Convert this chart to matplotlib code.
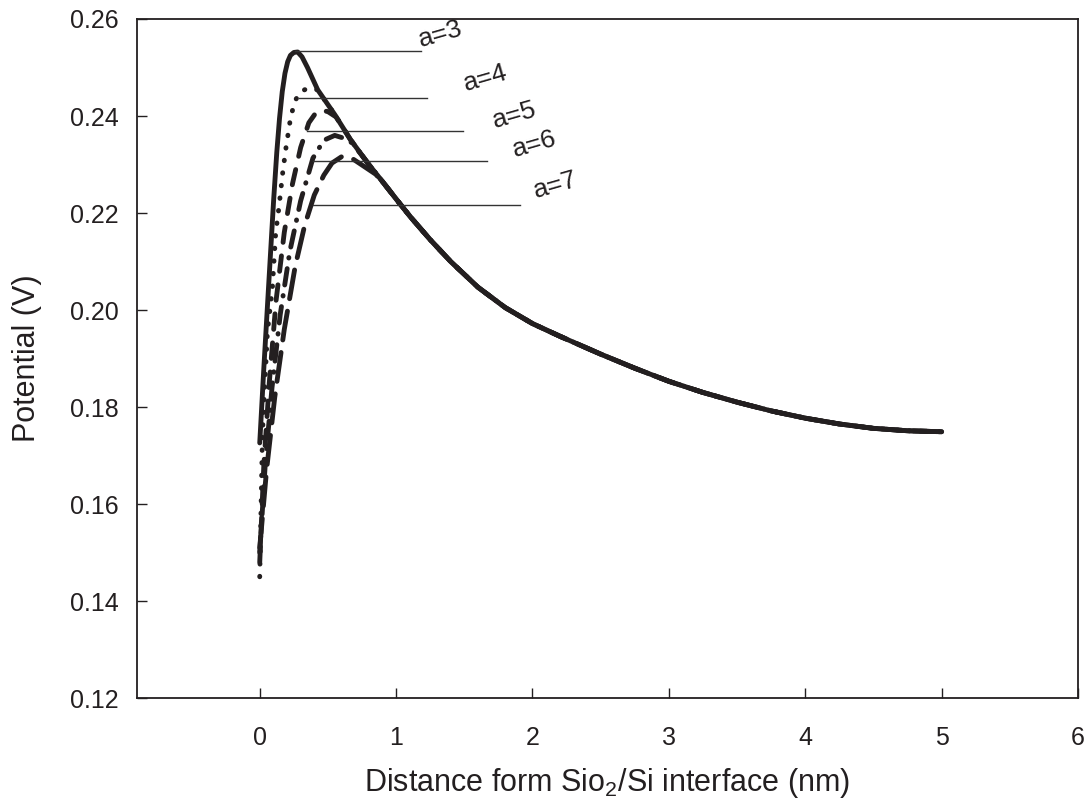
import numpy as np
import matplotlib
matplotlib.use("Agg")
import matplotlib.pyplot as plt

plt.rcParams["font.family"] = ["Liberation Sans", "DejaVu Sans"]
plt.rcParams["mathtext.default"] = "regular"

ink = "#231f20"

# common decaying part shared by all curves after the peak
tail_x = np.array([0.908, 1.0, 1.105, 1.25, 1.4, 1.6, 1.8, 2.0, 2.2, 2.5, 2.75, 3.0, 3.25,
                   3.5, 3.75, 4.0, 4.25, 4.5, 4.75, 5.0])
tail_y = np.array([0.2262, 0.2229, 0.2192, 0.2145, 0.2100, 0.2047, 0.2005, 0.1972, 0.1946,
                   0.1909, 0.1880, 0.1853, 0.1830, 0.1810, 0.1792, 0.1777, 0.1765, 0.1756,
                   0.1751, 0.1749])

# rising part / peak of each curve
a3_x = [0.0, 0.03, 0.06, 0.102, 0.125, 0.145, 0.165, 0.185, 0.205, 0.225, 0.25, 0.278, 0.31,
        0.35, 0.425, 0.55, 0.666, 0.8]
a3_y = [0.1726, 0.188, 0.2025, 0.2227, 0.2325, 0.2395, 0.2450, 0.2488, 0.2512, 0.2525, 0.2531,
        0.2532, 0.2522, 0.2500, 0.2454, 0.2403, 0.2351, 0.2300]
a4_x = [0.0, 0.02, 0.056, 0.093, 0.117, 0.141, 0.168, 0.19, 0.227, 0.26, 0.3, 0.35, 0.425, 0.55, 0.666, 0.8]
a4_y = [0.145, 0.1746, 0.1953, 0.2047, 0.2159, 0.2212, 0.2282, 0.233, 0.2398, 0.2432, 0.2450,
        0.2457, 0.2454, 0.2403, 0.2351, 0.2300]
a5_x = [0.0, 0.03, 0.07, 0.12, 0.18, 0.24, 0.30, 0.36, 0.41, 0.45, 0.50, 0.56, 0.666, 0.8]
a5_y = [0.148, 0.168, 0.185, 0.202, 0.216, 0.226, 0.2335, 0.2386, 0.2406, 0.2412, 0.2409,
        0.2398, 0.2351, 0.2300]
a6_x = [0.0, 0.04, 0.09, 0.15, 0.22, 0.30, 0.39, 0.47, 0.55, 0.62, 0.68, 0.8]
a6_y = [0.150, 0.168, 0.184, 0.199, 0.212, 0.2225, 0.2313, 0.2350, 0.2360, 0.2354, 0.2344, 0.2300]
a7_x = [0.0, 0.05, 0.11, 0.18, 0.26, 0.33, 0.40, 0.47, 0.53, 0.60, 0.68, 0.76, 0.85]
a7_y = [0.151, 0.167, 0.182, 0.196, 0.209, 0.2175, 0.2237, 0.2278, 0.2303, 0.2316, 0.2312,
        0.2297, 0.2280]

labels = ["a=3", "a=4", "a=5", "a=6", "a=7"]
# annotation leader lines: start x, end x, y
lead_x0 = [0.26, 0.29, 0.35, 0.39, 0.39]
lead_x1 = [1.18, 1.23, 1.49, 1.67, 1.91]
lead_y = [0.2533, 0.2437, 0.2369, 0.2307, 0.2216]
text_x = [1.17, 1.50, 1.71, 1.86, 2.01]
text_y = [0.2556, 0.2466, 0.2390, 0.2329, 0.2245]

styles = ["-", (0, (0.1, 2.5)), (0, (3.2, 2.8)), (0, (3.4, 2.2, 0.1, 2.2)), (0, (6.0, 2.6))]

fig = plt.figure(figsize=(10.89, 8.05), dpi=100)
ax = fig.add_axes([0.1258, 0.1329, 0.8641, 0.8435])

curves = [(a3_x, a3_y), (a4_x, a4_y), (a5_x, a5_y), (a6_x, a6_y), (a7_x, a7_y)]
for (cx, cy), ls in zip(curves[::-1], styles[::-1]):
    x = np.concatenate([cx, tail_x])
    y = np.concatenate([cy, tail_y])
    ax.plot(x, y, color=ink, lw=3.5, linestyle=ls, dash_capstyle="round",
            solid_capstyle="round", solid_joinstyle="round")

for i in range(len(labels)):
    ax.plot([lead_x0[i], lead_x1[i]], [lead_y[i], lead_y[i]], color="#333333", lw=1.0)
    ax.text(text_x[i], text_y[i], labels[i], fontsize=19, rotation=16, color=ink,
            ha="left", va="center", rotation_mode="anchor")

ax.set_xlim(-0.9, 6.0)
ax.set_ylim(0.12, 0.26)
ax.set_xticks([0, 1, 2, 3, 4, 5, 6])
ax.set_yticks([0.12, 0.14, 0.16, 0.18, 0.20, 0.22, 0.24, 0.26])
ax.set_yticklabels(["0.12", "0.14", "0.16", "0.18", "0.20", "0.22", "0.24", "0.26"])
ax.tick_params(axis="both", direction="in", length=7, width=1.0, colors=ink, labelsize=18)
ax.tick_params(axis="x", pad=20)
ax.tick_params(axis="y", pad=13)
for s in ax.spines.values():
    s.set_color(ink)
    s.set_linewidth(1.3)

ax.set_xlabel(r"Distance form Sio$_2$/Si interface (nm)", fontsize=22, color=ink, labelpad=12)
ax.set_ylabel("Potential (V)", fontsize=22, color=ink, labelpad=20)

fig.savefig("out.png", dpi=100)
